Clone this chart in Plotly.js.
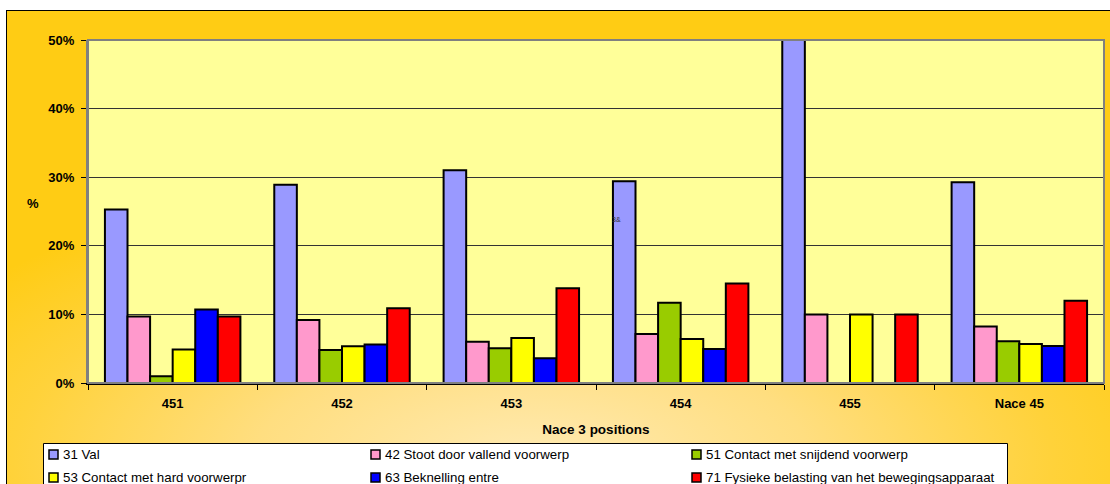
<!DOCTYPE html>
<html>
<head>
<meta charset="utf-8">
<script src="https://cdn.plot.ly/plotly-3.0.1.min.js"></script>
<style>
  html, body { margin: 0; padding: 0; background: #ffffff; overflow: hidden; width: 1110px; height: 484px; }
  #bg {
    position: absolute; left: 6px; top: 10px; width: 1120px; height: 490px;
    border: 1px solid #000; box-sizing: border-box;
    background: radial-gradient(ellipse 62% 60% at 47% 92%, #FFEAB2 0%, #FFDE80 40%, #FFD23A 75%, #FFCC14 100%);
  }
  #chart { position: absolute; left: 0; top: 0; width: 1110px; height: 484px; }
</style>
</head>
<body>
<div id="bg"></div>
<div id="chart"></div>
<script>
// ---- data ----
var categories = ["451", "452", "453", "454", "455", "Nace 45"];
var seriesNames = [
  "31 Val",
  "42 Stoot door vallend voorwerp",
  "51 Contact met snijdend voorwerp",
  "53 Contact met hard voorwerpr",
  "63 Beknelling entre",
  "71 Fysieke belasting van het bewegingsapparaat"
];
var val31      = [25.3, 28.9, 31.0, 29.4, 50.0, 29.25];
var stoot42    = [9.7, 9.2, 6.0, 7.15, 10.0, 8.25];
var snijdend51 = [1.0, 4.8, 5.05, 11.7, null, 6.1];
var hard53     = [4.9, 5.35, 6.55, 6.4, 10.0, 5.7];
var bekn63     = [10.7, 5.6, 3.6, 4.95, null, 5.4];
var fysiek71   = [9.7, 10.9, 13.8, 14.5, 10.0, 12.0];
var yTickVals  = [0, 10, 20, 30, 40, 50];
var yTickText  = ["0%", "10%", "20%", "30%", "40%", "50%"];

var seriesValues = [val31, stoot42, snijdend51, hard53, bekn63, fysiek71];
var colors = ["#9999FF", "#FF99CC", "#99CC00", "#FFFF00", "#0000FF", "#FF0000"];

// ---- geometry ----
var W = 1110, H = 484;
var L = 88, R = 1104, T = 40, B = 383;
function px2x(px) { return (px - L) / (R - L); }
function py2y(py) { return (B - py) / (B - T); }

var FONT = '"Liberation Sans", Arial, sans-serif';

var traces = seriesValues.map(function (vals, i) {
  return {
    type: "bar",
    name: seriesNames[i],
    x: categories,
    y: vals,
    marker: { color: colors[i], line: { color: "#000000", width: 2 } },
    showlegend: false,
    hoverinfo: "x+y+name"
  };
});

var shapes = [
  { type: "rect", xref: "paper", yref: "paper", x0: 0, x1: 1, y0: 0, y1: 1,
    line: { color: "#808080", width: 2 }, layer: "above" },
  { type: "rect", xref: "paper", yref: "paper",
    x0: px2x(43.5), x1: px2x(1007.5), y0: py2y(495), y1: py2y(443.5),
    fillcolor: "#FFFFFF", line: { color: "#000000", width: 1 }, layer: "above" }
];
var annotations = [
  { xref: "paper", yref: "paper", x: px2x(33), y: py2y(203), text: "<b>%</b>",
    showarrow: false, xanchor: "center", yanchor: "middle",
    font: { family: FONT, size: 13, color: "#000" } },
  { xref: "paper", yref: "paper", x: px2x(616), y: py2y(220), text: "3&",
    showarrow: false, xanchor: "center", yanchor: "middle",
    font: { family: FONT, size: 7, color: "#333" } }
];

var colSw = [49, 371, 692];
var colTx = [61, 383, 704];
var rowY = [454.5, 477.5];
seriesNames.forEach(function (nm, i) {
  var c = i % 3, r = Math.floor(i / 3);
  shapes.push({ type: "rect", xref: "paper", yref: "paper",
    x0: px2x(colSw[c]), x1: px2x(colSw[c] + 9),
    y0: py2y(rowY[r] + 4.5), y1: py2y(rowY[r] - 4.5),
    fillcolor: colors[i], line: { color: "#000", width: 1.5 }, layer: "above" });
  annotations.push({ xref: "paper", yref: "paper", x: px2x(colTx[c]), y: py2y(rowY[r]),
    text: nm, showarrow: false, xanchor: "left", yanchor: "middle",
    font: { family: FONT, size: 13.3, color: "#000" } });
});

var layout = {
  width: W, height: H,
  margin: { l: L, r: W - R, t: T, b: H - B, pad: 0 },
  paper_bgcolor: "rgba(0,0,0,0)",
  plot_bgcolor: "#FFFF99",
  barmode: "group",
  bargap: 0.2,
  bargroupgap: 0,
  showlegend: false,
  font: { family: FONT, size: 13, color: "#000" },
  xaxis: {
    type: "category",
    tickson: "boundaries",
    ticks: "outside", ticklen: 5, tickcolor: "#000", tickwidth: 1,
    showline: true, linecolor: "#000", linewidth: 1.5,
    showgrid: false,
    ticklabelstandoff: 8,
    tickfont: { family: FONT, size: 13, color: "#000", weight: "bold" },
    title: { text: "<b>Nace 3 positions</b>", standoff: 14,
             font: { family: FONT, size: 13.5, color: "#000" } },
    fixedrange: true
  },
  yaxis: {
    range: [0, 50],
    tickvals: yTickVals, ticktext: yTickText,
    ticks: "outside", ticklen: 5, tickcolor: "#000", tickwidth: 1,
    showline: true, linecolor: "#808080", linewidth: 2,
    showgrid: true, gridcolor: "#333333", gridwidth: 1,
    zeroline: false,
    ticklabelstandoff: 4,
    tickfont: { family: FONT, size: 13, color: "#000", weight: "bold" },
    fixedrange: true
  },
  shapes: shapes,
  annotations: annotations
};

Plotly.newPlot("chart", traces, layout, { displayModeBar: false, staticPlot: true });
</script>
</body>
</html>
